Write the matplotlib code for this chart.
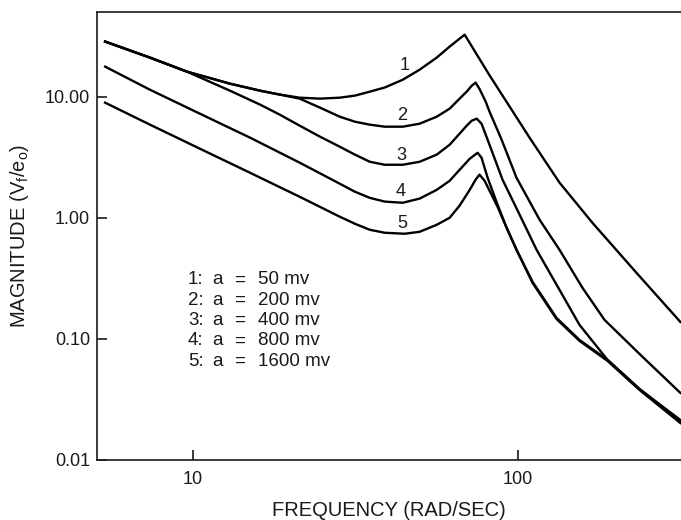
import matplotlib
matplotlib.use("Agg")
import matplotlib.pyplot as plt
from matplotlib.ticker import NullLocator

plt.rcParams['font.family'] = ['Liberation Sans', 'DejaVu Sans']
plt.rcParams['mathtext.fontset'] = 'custom'
plt.rcParams['mathtext.rm'] = 'Liberation Sans'
plt.rcParams['mathtext.it'] = 'Liberation Sans'

# curve 1: a = 50 mv
freq_1 = [5.37, 7.38, 9.58, 13.0, 16.1, 18.5, 21.3, 24.6, 28.3, 31.5, 35.0, 38.9,
          44.2, 49.8, 56.2, 61.6, 68.5, 81.7, 89.6, 108.5, 134.1, 169.3, 231.3, 315.6]
mag_1 = [28.5, 21.0, 16.1, 12.8, 11.2, 10.4, 9.81, 9.63, 9.81, 10.2, 11.0, 11.9,
         13.8, 16.7, 21.0, 25.9, 32.5, 15.0, 10.2, 4.58, 1.95, 0.909, 0.351, 0.138]

# curve 2: a = 200 mv
freq_2 = [5.37, 7.38, 9.58, 13.0, 16.1, 18.5, 21.3, 24.6, 28.3, 31.5, 35.0, 38.9,
          44.2, 49.8, 56.2, 61.6, 66.1, 69.5, 72.0, 74.0, 76.1, 79.5, 81.7, 89.0,
          98.9, 116.5, 134.1, 157.8, 184.4, 236.2, 315.6]
mag_2 = [28.5, 21.0, 16.1, 12.8, 11.2, 10.4, 9.63, 8.11, 6.83, 6.21, 5.87, 5.65,
         5.65, 5.98, 6.83, 7.96, 9.63, 11.0, 12.3, 13.05, 11.6, 9.09, 7.52, 4.41,
         2.14, 0.962, 0.544, 0.264, 0.1436, 0.0752, 0.0358]

# curve 3: a = 400 mv
freq_3 = [5.37, 7.38, 9.58, 13.0, 16.1, 18.5, 21.3, 24.6, 28.3, 31.5, 35.0, 38.9,
          44.2, 49.8, 56.2, 61.6, 66.1, 69.5, 72.0, 74.6, 77.2, 80.6, 89.6, 101.1,
          114.0, 134.1, 154.5, 188.4, 236.2, 315.6]
mag_3 = [28.5, 21.0, 16.1, 11.2, 8.59, 7.10, 5.76, 4.67, 3.86, 3.32, 2.90, 2.74,
         2.74, 2.90, 3.32, 4.01, 4.95, 5.76, 6.33, 6.58, 5.98, 4.41, 2.06, 1.06,
         0.544, 0.254, 0.1305, 0.0671, 0.0386, 0.0214]

# curve 4: a = 800 mv
freq_4 = [5.37, 7.38, 10.5, 15.0, 21.3, 28.3, 31.5, 35.0, 38.9, 44.2, 49.8, 56.2,
          61.6, 66.1, 71.0, 75.1, 77.2, 80.6, 86.5, 92.2, 98.9, 110.8, 131.3, 154.5,
          188.4, 236.2, 315.6]
mag_4 = [17.7, 11.4, 7.24, 4.58, 2.85, 1.91, 1.64, 1.46, 1.36, 1.33, 1.44, 1.70,
         2.02, 2.49, 3.07, 3.44, 3.13, 2.14, 1.28, 0.827, 0.544, 0.296, 0.149, 0.098,
         0.0671, 0.0386, 0.0206]

# curve 5: a = 1600 mv
freq_5 = [5.37, 7.38, 10.5, 15.0, 21.3, 28.3, 31.5, 35.0, 38.9, 44.8, 49.8, 56.2,
          61.6, 66.1, 71.0, 74.0, 76.1, 78.9, 82.3, 86.5, 92.2, 98.9, 110.8, 131.3,
          154.5, 188.4, 236.2, 315.6]
mag_5 = [8.92, 5.87, 3.72, 2.35, 1.49, 1.02, 0.892, 0.796, 0.752, 0.738, 0.766, 0.875,
         1.00, 1.26, 1.70, 2.06, 2.27, 2.02, 1.61, 1.23, 0.827, 0.544, 0.290, 0.146,
         0.0963, 0.0658, 0.0379, 0.0202]

curve_ids = ['1', '2', '3', '4', '5']
amplitudes = ['50 mv', '200 mv', '400 mv', '800 mv', '1600 mv']
x_ticks = [10, 100]
x_ticklabels = ['10', '100']
y_ticks = [0.01, 0.1, 1, 10]
y_ticklabels = ['0.01', '0.10', '1.00', '10.00']

W, H = 681, 520
ink = '#1a1a1a'
fig = plt.figure(figsize=(W / 100, H / 100), dpi=100)
ax = fig.add_axes([97 / W, 60 / H, 584 / W, 448 / H])

freqs = [freq_1, freq_2, freq_3, freq_4, freq_5]
mags = [mag_1, mag_2, mag_3, mag_4, mag_5]
for f, m in zip(freqs, mags):
    ax.plot(f, m, color='black', lw=1.7, solid_joinstyle='round')

ax.set_xscale('log')
ax.set_yscale('log')
ax.set_xlim(5.07, 317)
ax.set_ylim(0.01, 50)
ax.set_xticks(x_ticks)
ax.set_xticklabels(x_ticklabels)
ax.set_yticks(y_ticks)
ax.set_yticklabels(y_ticklabels)
ax.xaxis.set_minor_locator(NullLocator())
ax.yaxis.set_minor_locator(NullLocator())
ax.tick_params(direction='in', length=7, width=1.2, labelsize=13, colors=ink)
ax.tick_params(axis='x', pad=8)
ax.tick_params(axis='y', pad=5)
ax.spines['right'].set_visible(False)
for s in ['left', 'bottom', 'top']:
    ax.spines[s].set_linewidth(1.2)
    ax.spines[s].set_color(ink)

ax.set_xlabel('FREQUENCY (RAD/SEC)', fontsize=14.5, labelpad=9, color=ink)
ax.set_ylabel(r'MAGNITUDE (V$_\mathregular{f}$/e$_\mathregular{o}$)', fontsize=14.5,
              labelpad=10, color=ink)


def px(x, y):
    return x / W, 1 - y / H


# curve numbers
label_pos = [(405, 65), (402, 116), (401, 155), (401, 191), (402, 223)]
for cid, (lx, ly) in zip(curve_ids, label_pos):
    fig.text(*px(lx, ly), cid, ha='center', va='center', fontsize=13, color=ink)

# key
for i, (cid, amp) in enumerate(zip(curve_ids, amplitudes)):
    ry = 280 + i * 20.3
    fig.text(*px(188, ry), cid + ':', ha='left', va='center', fontsize=13.5, color=ink)
    fig.text(*px(212, ry), 'a', ha='left', va='center', fontsize=13.5, color=ink)
    fig.text(*px(240, ry), '=', ha='center', va='center', fontsize=13.5, color=ink)
    fig.text(*px(258, ry), amp, ha='left', va='center', fontsize=13.5, color=ink)

fig.savefig('out.png', dpi=100)
